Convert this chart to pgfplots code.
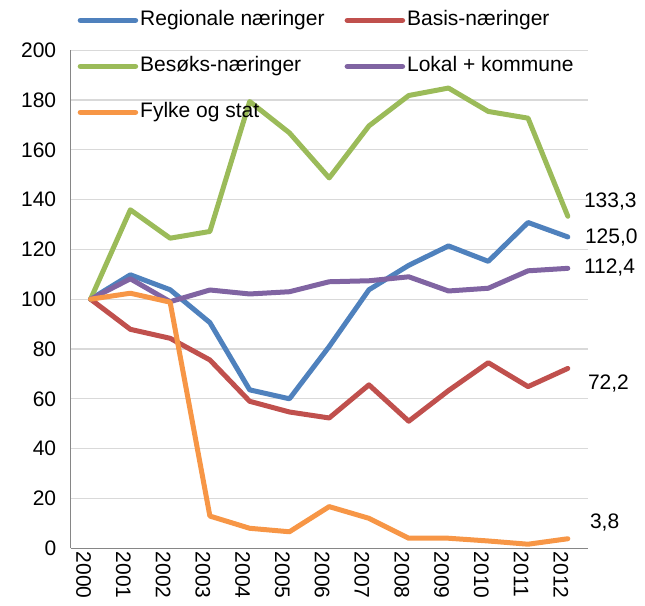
\documentclass[border=0pt]{standalone}
\usepackage{pgfplots}
\pgfplotsset{compat=1.18}
\usepackage{fontspec}
\setmainfont{Liberation Sans}
\usetikzlibrary{calc}

\definecolor{regblue}{HTML}{4F81BD}
\definecolor{basred}{HTML}{C0504D}
\definecolor{besgreen}{HTML}{9BBB59}
\definecolor{lokpurple}{HTML}{8064A2}
\definecolor{fylorange}{HTML}{F79646}
\definecolor{gridgray}{HTML}{D9D9D9}
\definecolor{axgray}{HTML}{868686}

\newcommand{\chartfont}{\fontsize{21bp}{25bp}\selectfont}

\begin{document}
\begin{tikzpicture}
\begin{axis}[
    scale only axis,
    width=517bp, height=498bp,
    xmin=-0.5, xmax=12.5,
    ymin=0, ymax=200,
    clip=false,
    xtick={0,...,12},
    xticklabels={2000,2001,2002,2003,2004,2005,2006,2007,2008,2009,2010,2011,2012},
    ytick={0,20,...,200},
    /pgf/number format/assume math mode=true,
    tick label style={font=\chartfont},
    x tick label style={rotate=-90, anchor=west, yshift=-7bp},
    y tick label style={xshift=-11bp},
    major tick length=0pt,
    axis x line*=bottom, axis y line*=left,
    axis line style={-, axgray, line width=1.3bp},
    ymajorgrids,
    grid style={gridgray, line width=1.1bp},
    legend columns=2,
    legend cell align=left,
    legend image code/.code={\draw[#1, line width=5.5bp] (0bp,0bp) -- (55bp,0bp);},
    legend style={
        at={(rel axis cs:0.0135,1.083)}, anchor=north west,
        draw=none, fill=none, inner sep=0pt, outer sep=0pt,
        font=\chartfont, row sep=23bp,
        nodes={inner sep=2bp, text height=15bp, text depth=4bp},
        /tikz/every even column/.append style={column sep=18bp},
    },
    every axis plot/.append style={line width=5bp, line join=round, line cap=round},
]
\addplot[regblue] coordinates {
    (0,100) (1,109.8) (2,103.8) (3,90.6) (4,63.6) (5,60.0) (6,81.0)
    (7,103.8) (8,113.6) (9,121.4) (10,115.2) (11,130.8) (12,125.0)
};
\addlegendentry{Regionale næringer}
\addplot[basred] coordinates {
    (0,100) (1,87.9) (2,84.3) (3,75.6) (4,59.0) (5,54.7) (6,52.3)
    (7,65.6) (8,51.0) (9,63.3) (10,74.5) (11,64.9) (12,72.2)
};
\addlegendentry{Basis-næringer}
\addplot[besgreen] coordinates {
    (0,100) (1,135.9) (2,124.5) (3,127.2) (4,179.4) (5,166.8) (6,148.7)
    (7,169.6) (8,181.8) (9,184.8) (10,175.4) (11,172.7) (12,133.3)
};
\addlegendentry{Besøks-næringer}
\addplot[lokpurple] coordinates {
    (0,100) (1,108.2) (2,99.0) (3,103.7) (4,102.1) (5,103.0) (6,107.0)
    (7,107.4) (8,109.0) (9,103.3) (10,104.4) (11,111.4) (12,112.4)
};
\addlegendentry{Lokal + kommune}
\addplot[fylorange] coordinates {
    (0,100) (1,102.4) (2,98.8) (3,12.9) (4,8.0) (5,6.6) (6,16.7)
    (7,12.0) (8,4.0) (9,4.0) (10,2.9) (11,1.6) (12,3.8)
};
\addlegendentry{Fylke og stat}

\node[font=\chartfont, anchor=west, inner sep=0pt, xshift=16bp, yshift=15bp] at (axis cs:12,133.3) {133,3};
\node[font=\chartfont, anchor=west, inner sep=0pt, xshift=17bp, yshift=-1bp] at (axis cs:12,125.0) {125,0};
\node[font=\chartfont, anchor=west, inner sep=0pt, xshift=16bp, yshift=1bp] at (axis cs:12,112.4) {112,4};
\node[font=\chartfont, anchor=west, inner sep=0pt, xshift=20bp, yshift=-15bp] at (axis cs:12,72.2) {72,2};
\node[font=\chartfont, anchor=west, inner sep=0pt, xshift=22bp, yshift=16bp] at (axis cs:12,3.8) {3,8};

\coordinate (o) at (rel axis cs:0,0);
\end{axis}
\pgfresetboundingbox
\path ($(o)+(-70.7bp,-57.8bp)$) rectangle ($(o)+(574.3bp,548.2bp)$);
\end{tikzpicture}
\end{document}
